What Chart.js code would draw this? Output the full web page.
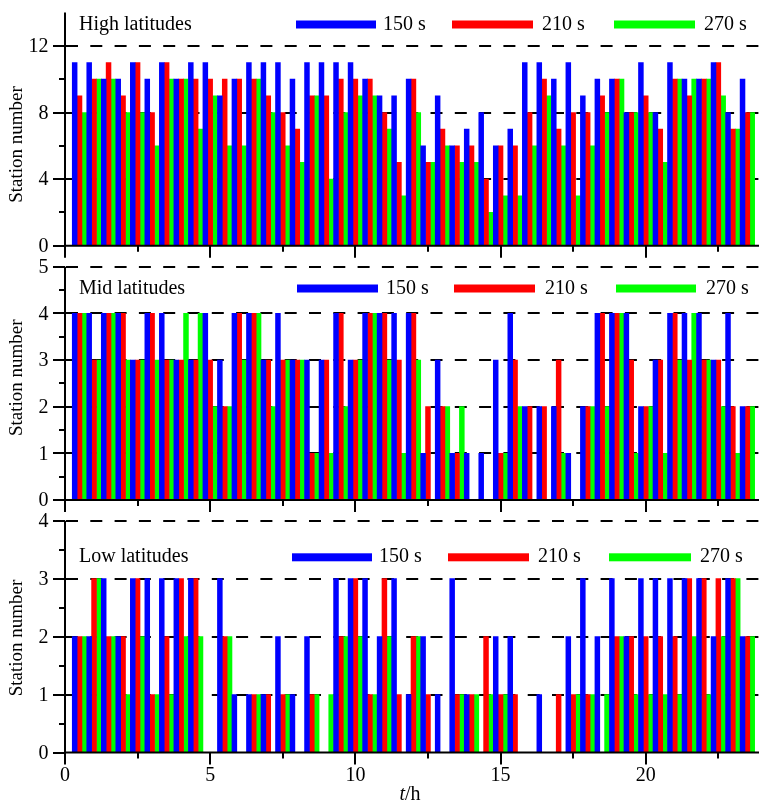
<!DOCTYPE html>
<html>
<head>
<meta charset="utf-8">
<script src="https://cdn.jsdelivr.net/npm/chart.js@4.4.0/dist/chart.umd.min.js"></script>
<style>
  html, body { margin: 0; padding: 0; background: #fff; overflow: hidden; }
  .panel { position: absolute; left: 0; width: 759px; }
  #p1 { top: 0; height: 262px; }
  #p2 { top: 250px; height: 266px; }
  #p3 { top: 505px; height: 298px; }
</style>
</head>
<body>
<div class="panel" id="p1"><canvas id="c1"></canvas></div>
<div class="panel" id="p2"><canvas id="c2"></canvas></div>
<div class="panel" id="p3"><canvas id="c3"></canvas></div>
<script>
// time of each group (h)
const hours = [0.5, 1, 1.5, 2, 2.5, 3, 3.5, 4, 4.5, 5, 5.5, 6, 6.5, 7, 7.5, 8, 8.5, 9, 9.5, 10,
  10.5, 11, 11.5, 12, 12.5, 13, 13.5, 14, 14.5, 15, 15.5, 16, 16.5, 17, 17.5, 18, 18.5, 19, 19.5, 20,
  20.5, 21, 21.5, 22, 22.5, 23, 23.5];

const seriesNames = ["150 s", "210 s", "270 s"];
const seriesColors = ["#0000ff", "#ff0000", "#00ff00"];
const xTicks = [0, 5, 10, 15, 20];
const xMinorTicks = [2.5, 7.5, 12.5, 17.5, 22.5];

// high latitudes
const high150 = [11, 11, 10, 10, 11, 10, 11, 10, 11, 11, 9, 10, 11, 11, 11, 10, 11, 11, 11, 11, 10, 9, 9, 10, 6, 9, 6, 7, 8, 6, 7, 11, 11, 10, 11, 9, 10, 10, 8, 11, 8, 11, 10, 10, 11, 8, 10];
const high210 = [9, 10, 11, 9, 11, 8, 11, 10, 10, 10, 10, 10, 10, 9, 8, 7, 9, 9, 10, 10, 10, 8, 5, 10, 5, 7, 6, 6, 4, 6, 6, 8, 10, 7, 8, 8, 9, 10, 8, 9, 7, 10, 9, 10, 11, 7, 8];
const high270 = [8, 10, 10, 8, 8, 6, 10, 10, 7, 9, 6, 6, 10, 8, 6, 5, 9, 4, 8, 9, 9, 7, 3, 8, 5, 6, 5, 5, 2, 3, 3, 6, 9, 6, 3, 6, 8, 10, 8, 8, 5, 10, 10, 10, 9, 7, 8];

// mid latitudes
const mid150 = [4, 4, 4, 4, 3, 4, 4, 3, 3, 4, 3, 4, 4, 3, 4, 3, 3, 3, 4, 3, 4, 4, 4, 4, 1, 3, 1, 1, 1, 3, 4, 2, 2, 2, 1, 2, 4, 4, 4, 2, 3, 4, 4, 4, 3, 4, 2];
const mid210 = [4, 3, 4, 4, 3, 4, 3, 3, 3, 3, 2, 4, 4, 3, 3, 3, 1, 3, 4, 3, 4, 4, 3, 4, 2, 2, 1, 0, 0, 1, 3, 2, 2, 3, 0, 2, 4, 4, 3, 2, 3, 4, 3, 3, 3, 2, 2];
const mid270 = [4, 3, 4, 3, 3, 3, 3, 4, 4, 2, 2, 3, 4, 2, 3, 3, 1, 1, 2, 3, 4, 3, 1, 3, 0, 2, 2, 0, 0, 1, 2, 0, 0, 1, 0, 2, 2, 4, 1, 2, 1, 3, 4, 3, 2, 1, 2];

// low latitudes
const low150 = [2, 2, 3, 2, 3, 3, 3, 3, 3, 0, 3, 1, 1, 1, 2, 1, 2, 0, 3, 3, 3, 2, 3, 1, 2, 1, 3, 1, 0, 2, 2, 0, 1, 0, 2, 3, 2, 3, 2, 3, 3, 3, 3, 3, 2, 3, 2];
const low210 = [2, 3, 2, 2, 3, 1, 2, 3, 3, 0, 2, 0, 1, 1, 1, 0, 1, 0, 2, 3, 1, 3, 1, 2, 1, 0, 1, 1, 2, 1, 1, 0, 0, 1, 1, 1, 0, 2, 2, 2, 2, 2, 3, 3, 3, 3, 2];
const low270 = [2, 3, 2, 1, 2, 1, 1, 2, 2, 0, 2, 0, 1, 0, 1, 0, 1, 1, 2, 2, 1, 2, 0, 2, 0, 0, 1, 1, 1, 1, 0, 0, 0, 0, 1, 1, 1, 2, 1, 1, 1, 1, 2, 1, 2, 3, 2];

const FONT = "'Liberation Serif', 'Times New Roman', serif";

function framePlugin(cfg) {
  return {
    id: "frame",
    beforeDatasetsDraw(chart) {
      const { ctx, chartArea: a, scales: { y } } = chart;
      ctx.save();
      ctx.strokeStyle = "#000";
      ctx.lineWidth = 2;
      ctx.setLineDash([12, 12.3]);
      cfg.grid.forEach(v => {
        const py = Math.round(y.getPixelForValue(v));
        ctx.beginPath();
        ctx.moveTo(a.left + 1, py);
        ctx.lineTo(a.right, py);
        ctx.stroke();
      });
      ctx.restore();
    },
    afterDatasetsDraw(chart) {
      const { ctx, chartArea: a, scales: { x, y } } = chart;
      ctx.save();
      ctx.strokeStyle = "#000";
      ctx.lineWidth = 2;
      ctx.beginPath();
      ctx.moveTo(a.left, a.top);
      ctx.lineTo(a.left, a.bottom + 1);
      ctx.moveTo(a.left - 1, a.bottom);
      ctx.lineTo(a.right, a.bottom);
      xTicks.forEach(v => {
        const px = Math.round(x.getPixelForValue(v));
        ctx.moveTo(px, a.bottom);
        ctx.lineTo(px, a.bottom + 12);
      });
      xMinorTicks.forEach(v => {
        const px = Math.round(x.getPixelForValue(v));
        ctx.moveTo(px, a.bottom);
        ctx.lineTo(px, a.bottom + 6);
      });
      cfg.yMajor.forEach(v => {
        const py = Math.round(y.getPixelForValue(v));
        ctx.moveTo(a.left, py);
        ctx.lineTo(a.left - 12, py);
      });
      cfg.yMinor.forEach(v => {
        const py = Math.round(y.getPixelForValue(v));
        ctx.moveTo(a.left, py);
        ctx.lineTo(a.left - 6, py);
      });
      ctx.stroke();

      // tick labels
      ctx.fillStyle = "#000";
      ctx.font = "20px " + FONT;
      ctx.textBaseline = "middle";
      ctx.textAlign = "right";
      cfg.yMajor.forEach(v => {
        ctx.fillText(String(v), 48.5, y.getPixelForValue(v) + 1);
      });
      if (cfg.showX) {
        ctx.textAlign = "center";
        xTicks.forEach(v => {
          ctx.fillText(String(v), x.getPixelForValue(v), a.bottom + 23);
        });
      }
      ctx.restore();
    },
    afterDraw(chart) {
      const ctx = chart.ctx;
      ctx.save();
      ctx.fillStyle = "#000";
      ctx.font = "20px " + FONT;
      ctx.textBaseline = "middle";
      ctx.textAlign = "left";
      ctx.fillText(cfg.label, 79, cfg.labelY);
      seriesNames.forEach((name, i) => {
        const [x0, x1] = cfg.legendLines[i];
        ctx.fillStyle = seriesColors[i];
        ctx.fillRect(x0, cfg.legendY - 4, x1 - x0, 8);
        ctx.fillStyle = "#000";
        ctx.fillText(name, cfg.legendText[i], cfg.labelY);
      });
      // y axis title
      ctx.save();
      ctx.translate(17, cfg.titleY);
      ctx.rotate(-Math.PI / 2);
      ctx.textAlign = "center";
      ctx.font = "19px " + FONT;
      ctx.fillText("Station number", 0, 0);
      ctx.restore();
      if (cfg.showX) {
        ctx.textAlign = "left";
        ctx.font = "italic 20px " + FONT;
        const tw = ctx.measureText("t").width;
        ctx.font = "20px " + FONT;
        const hw = ctx.measureText("/h").width;
        const start = 410 - (tw + hw) / 2;
        ctx.font = "italic 20px " + FONT;
        ctx.fillText("t", start, cfg.xTitleY);
        ctx.font = "20px " + FONT;
        ctx.fillText("/h", start + tw, cfg.xTitleY);
      }
      ctx.restore();
    }
  };
}

function makePanel(canvasId, values, cfg) {
  const datasets = values.map((vals, i) => ({
    label: seriesNames[i],
    data: hours.map((h, j) => ({ x: h, y: vals[j] })),
    backgroundColor: seriesColors[i],
    borderWidth: 0,
    categoryPercentage: 1.0,
    barPercentage: 1.0
  }));
  new Chart(document.getElementById(canvasId), {
    type: "bar",
    data: { datasets: datasets },
    options: {
      responsive: true,
      maintainAspectRatio: false,
      animation: false,
      layout: { padding: { top: cfg.padTop, left: 0, right: 0, bottom: 0 } },
      plugins: { legend: { display: false }, tooltip: { enabled: false } },
      scales: {
        x: {
          type: "linear",
          min: 0,
          max: 23.9,
          offset: false,
          grid: { display: false, drawTicks: false, tickLength: 0 },
          border: { display: false },
          ticks: { display: false },
          afterFit: s => { s.height = cfg.xHeight; }
        },
        y: {
          min: 0,
          max: cfg.yMax,
          grid: { display: false, drawTicks: false, tickLength: 0 },
          border: { display: false },
          ticks: { display: false },
          afterFit: s => { s.width = 65; }
        }
      }
    },
    plugins: [framePlugin(cfg)]
  });
}

// panel 1: canvas y 0..262
makePanel("c1", [high150, high210, high270], {
  label: "High latitudes", yMax: 14, padTop: 12.6, xHeight: 16.3, showX: false,
  yMajor: [0, 4, 8, 12], yMinor: [2, 6, 10], grid: [4, 8, 12],
  labelY: 24.5, legendY: 24.5, titleY: 144.5,
  legendLines: [[296, 376], [452, 533], [614, 695]], legendText: [383, 542, 704]
});

// panel 2: canvas y 250..516
makePanel("c2", [mid150, mid210, mid270], {
  label: "Mid latitudes", yMax: 5, padTop: 16.7, xHeight: 16, showX: false,
  yMajor: [0, 1, 2, 3, 4, 5], yMinor: [0.5, 1.5, 2.5, 3.5, 4.5], grid: [1, 2, 3, 4, 5],
  labelY: 38.3, legendY: 38.5, titleY: 127.7,
  legendLines: [[297, 378], [454, 535], [616, 696]], legendText: [386, 545, 706]
});

// panel 3: canvas y 505..803
makePanel("c3", [low150, low210, low270], {
  label: "Low latitudes", yMax: 4, padTop: 15.7, xHeight: 50.5, showX: true,
  yMajor: [0, 1, 2, 3, 4], yMinor: [0.5, 1.5, 2.5, 3.5], grid: [1, 2, 3, 4],
  labelY: 51.7, legendY: 52.3, titleY: 133, xTitleY: 290,
  legendLines: [[292, 372], [448, 529], [609, 691]], legendText: [379, 538, 700]
});
</script>
</body>
</html>
